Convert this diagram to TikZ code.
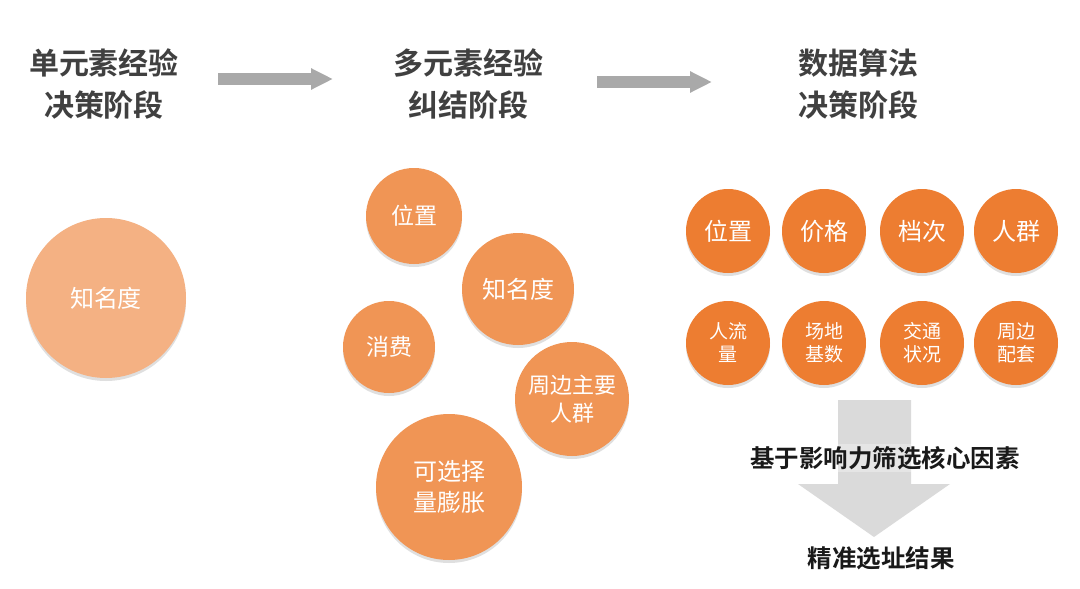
\documentclass[tikz,border=0pt]{standalone}
\usepackage{fontspec}
\newfontfamily\cjk[BoldFont={Noto Sans CJK SC Bold}]{Noto Sans CJK SC}
\usetikzlibrary{arrows.meta}
\usetikzlibrary{shadows}
\definecolor{titlegray}{HTML}{404040}
\definecolor{arrowgray}{HTML}{A9A9A9}
\definecolor{palefill}{HTML}{F4B183}
\definecolor{midfill}{HTML}{F09555}
\definecolor{strongfill}{HTML}{ED7D31}
\definecolor{downgray}{HTML}{DADADA}
\tikzset{
	every node/.style={font=\cjk},
	title/.style={
		align=center,
		text=titlegray,
		font=\cjk\bfseries\fontsize{30}{42}\selectfont,
	},
	stagearrow/.style={
		draw=arrowgray,
		line width=12pt,
		-{Triangle[length=22pt,width=20pt]},
	},
	factor/.style={
		circle,
		inner sep=0pt,
		align=center,
		text=white,
		drop shadow={shadow xshift=0pt,shadow yshift=-3pt,opacity=0.25},
	},
	pale/.style={factor,fill=palefill},
	mid/.style={factor,fill=midfill},
	strong/.style={factor,fill=strongfill,minimum size=84pt},
	result/.style={
		align=center,
		text=black!90,
		font=\cjk\bfseries\fontsize{24.5}{28}\selectfont,
	},
}

\begin{document}
\begin{tikzpicture}[x=1pt,y=-1pt]
	\useasboundingbox[fill=white] (0,0) rectangle (1080,589);

	% stage titles
	\node[title] (single) at (104,84) {单元素经验\\决策阶段};
	\node[title] (multi) at (468,84) {多元素经验\\纠结阶段};
	\node[title] (algo) at (858,84) {数据算法\\决策阶段};

	\coordinate (s1) at (218,79);
	\coordinate (e1) at (333,79);
	\coordinate (s2) at (597,82);
	\coordinate (e2) at (712,82);
	\draw[stagearrow] (s1) -- (e1);
	\draw[stagearrow] (s2) -- (e2);

	% single element
	\node[pale,minimum size=160pt,font=\cjk\fontsize{24}{28}\selectfont] (fame) at (106,298) {知名度};

	% many elements
	\node[mid,minimum size=96pt,font=\cjk\fontsize{23}{28}\selectfont] (loc) at (414,216) {位置};
	\node[mid,minimum size=112pt,font=\cjk\fontsize{24}{28}\selectfont] (fame2) at (518,289) {知名度};
	\node[mid,minimum size=92pt,font=\cjk\fontsize{23}{28}\selectfont] (spend) at (389,347) {消费};
	\node[mid,minimum size=114pt,font=\cjk\fontsize{22}{28}\selectfont] (crowd) at (572,399) {周边主要\\人群};
	\node[mid,minimum size=146pt,font=\cjk\fontsize{24}{31}\selectfont] (choice) at (449,487) {可选择\\量膨胀};

	% algorithm factors
	\node[strong,font=\cjk\fontsize{24}{28}\selectfont] (loc3) at (728,231) {位置};
	\node[strong,font=\cjk\fontsize{24}{28}\selectfont] (price) at (824,231) {价格};
	\node[strong,font=\cjk\fontsize{24}{28}\selectfont] (grade) at (922,231) {档次};
	\node[strong,font=\cjk\fontsize{24}{28}\selectfont] (people) at (1016,231) {人群};
	\node[strong,font=\cjk\fontsize{19}{23}\selectfont] (flow) at (728,343) {人流\\量};
	\node[strong,font=\cjk\fontsize{19}{23}\selectfont] (site) at (824,343) {场地\\基数};
	\node[strong,font=\cjk\fontsize{19}{23}\selectfont] (traffic) at (922,343) {交通\\状况};
	\node[strong,font=\cjk\fontsize{19}{23}\selectfont] (around) at (1016,343) {周边\\配套};

	% filtering
	\fill[downgray] (838,400) -- (911,400) -- (911,484) -- (950,484)
		-- (874,537) -- (798,484) -- (838,484) -- cycle;
	\node[result,fill=white,fill opacity=0.3,text opacity=1,inner ysep=2pt] (filter) at (885,458) {基于影响力筛选核心因素};
	\node[result] (final) at (881,558) {精准选址结果};
\end{tikzpicture}
\end{document}
